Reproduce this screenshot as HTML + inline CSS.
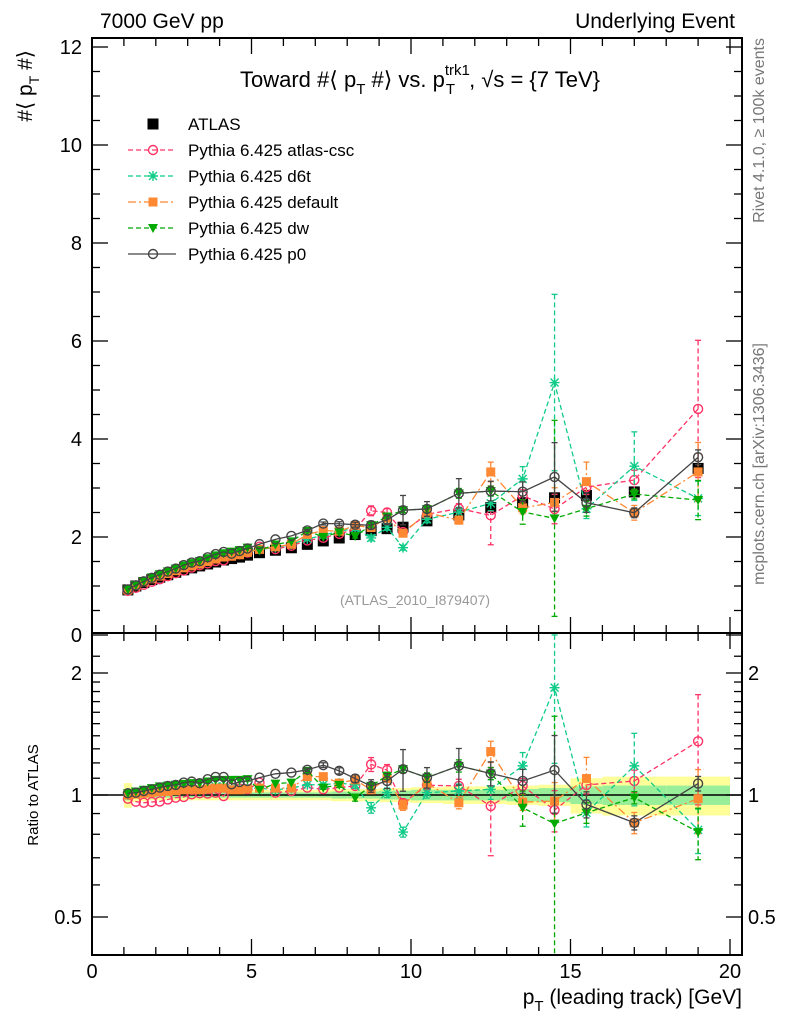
<!DOCTYPE html>
<html><head><meta charset="utf-8"><style>
html,body{margin:0;padding:0;background:#fff;width:786px;height:1024px;overflow:hidden;}
svg{display:block;font-family:"Liberation Sans",sans-serif;}
</style></head><body>
<svg id="c" width="786" height="1024" viewBox="0 0 786 1024" xmlns="http://www.w3.org/2000/svg">
<text x="100" y="28" font-size="21">7000 GeV pp</text>
<text x="735" y="28" font-size="21" text-anchor="end">Underlying Event</text>
<text x="420" y="87" font-size="22" text-anchor="middle">Toward #⟨ p<tspan font-size="15" dy="7">T</tspan><tspan dy="-7"> #⟩ vs. p</tspan><tspan font-size="15" dy="-12">trk1</tspan><tspan font-size="15" dx="-24" dy="19">T</tspan><tspan dy="-7" dx="14">, √s = {7 TeV}</tspan></text>
<text transform="translate(32,50) rotate(-90)" font-size="21" text-anchor="end">#⟨ p<tspan font-size="14" dy="7">T</tspan><tspan dy="-7"> #⟩</tspan></text>
<text transform="translate(38,795) rotate(-90)" font-size="15" text-anchor="middle">Ratio to ATLAS</text>
<text x="742" y="1004" font-size="21" text-anchor="end">p<tspan font-size="15" dy="7">T</tspan><tspan dy="-7"> (leading track) [GeV]</tspan></text>
<text transform="translate(764,38) rotate(-90)" font-size="16" fill="#777" text-anchor="end">Rivet 4.1.0, ≥ 100k events</text>
<text transform="translate(764,343) rotate(-90)" font-size="16" fill="#777" text-anchor="end">mcplots.cern.ch [arXiv:1306.3436]</text>
<text x="415" y="605" font-size="14" fill="#999" text-anchor="middle">(ATLAS_2010_I879407)</text>
<g id="bands"></g><g id="marks"></g><g id="axes"></g><g id="legend"></g>
</svg>
<script>
const xs=[1.125,1.375,1.625,1.875,2.125,2.375,2.625,2.875,3.125,3.375,3.625,3.875,4.125,4.375,4.625,4.875,5.25,5.75,6.25,6.75,7.25,7.75,8.25,8.75,9.25,9.75,10.5,11.5,12.5,13.5,14.5,15.5,17,19];
const xw=[0.125,0.125,0.125,0.125,0.125,0.125,0.125,0.125,0.125,0.125,0.125,0.125,0.125,0.125,0.125,0.125,0.25,0.25,0.25,0.25,0.25,0.25,0.25,0.25,0.25,0.25,0.5,0.5,0.5,0.5,0.5,0.5,1,1];
const atlas=[0.92,1.0,1.07,1.13,1.18,1.23,1.28,1.33,1.37,1.41,1.45,1.49,1.53,1.56,1.59,1.63,1.68,1.73,1.78,1.85,1.92,1.98,2.05,2.13,2.17,2.2,2.33,2.45,2.6,2.7,2.8,2.85,2.92,3.4];
const bandTot=[0.07,0.04,0.035,0.03,0.03,0.03,0.03,0.03,0.03,0.03,0.03,0.03,0.03,0.03,0.03,0.03,0.03,0.03,0.03,0.03,0.03,0.035,0.035,0.035,0.04,0.04,0.045,0.05,0.05,0.055,0.06,0.1,0.11,0.11];
const bandStat=[0.03,0.015,0.015,0.015,0.015,0.015,0.015,0.015,0.015,0.015,0.015,0.015,0.015,0.015,0.015,0.015,0.015,0.015,0.015,0.015,0.015,0.02,0.02,0.02,0.025,0.025,0.03,0.03,0.03,0.035,0.04,0.05,0.055,0.055];
const rCsc=[0.979,0.963,0.957,0.961,0.964,0.975,0.985,0.989,1.004,1.01,1.008,1.013,0.994,1.043,1.037,1.033,1.073,1.013,1.023,1.043,1.033,1.043,1.053,1.19,1.152,0.955,1.057,1.053,0.939,1.053,0.918,1.059,1.083,1.357];
const rD6t=[1.0,1.01,1.02,1.03,1.04,1.045,1.05,1.05,1.04,1.03,1.04,1.05,1.05,1.04,1.04,1.04,1.04,1.03,1.04,1.06,1.06,1.07,1.06,0.93,1.013,0.81,1.013,1.023,1.033,1.18,1.84,0.904,1.18,0.82];
const rDef=[1.0,1.005,1.01,1.015,1.02,1.02,1.025,1.03,1.03,1.03,1.035,1.04,1.04,1.03,1.03,1.035,1.04,1.04,1.04,1.11,1.11,1.07,1.09,1.03,1.1,0.944,1.07,0.957,1.28,0.961,0.966,1.098,0.854,0.979];
const rDw=[1.01,1.02,1.03,1.04,1.05,1.055,1.06,1.065,1.07,1.07,1.08,1.09,1.09,1.09,1.09,1.094,1.03,1.067,1.073,1.147,1.043,1.059,0.985,1.053,1.115,1.158,1.104,1.18,1.13,0.93,0.85,0.904,0.985,0.81];
const rP0=[1.01,1.013,1.023,1.033,1.043,1.053,1.059,1.073,1.079,1.069,1.094,1.108,1.108,1.063,1.077,1.083,1.104,1.128,1.136,1.154,1.185,1.147,1.098,1.053,1.083,1.158,1.104,1.18,1.13,1.083,1.152,0.948,0.854,1.067];
const eCsc=[0,0,0,0,0,0,0,0,0,0,0,0,0,0,0,0,0,0,0,0,0,0,0.03,0.1,0.08,0.05,0.08,0.1,0.6,0.12,0.3,0.15,0.2,1.4];
const eD6t=[0,0,0,0,0,0,0,0,0,0,0,0,0,0,0,0,0,0,0,0,0.02,0.03,0.04,0.06,0.06,0.05,0.07,0.1,0.15,0.25,1.8,0.2,0.7,0.35];
const eDef=[0,0,0,0,0,0,0,0,0,0,0,0,0,0,0,0,0,0,0,0.02,0.02,0.03,0.04,0.04,0.05,0.06,0.07,0.08,0.2,0.12,0.3,0.4,0.15,0.6];
const eDw=[0,0,0,0,0,0,0,0,0,0,0,0,0,0,0,0,0,0,0,0.02,0.02,0.03,0.04,0.04,0.05,0.05,0.07,0.1,0.1,0.25,2.0,0.15,0.1,0.4];
const eP0=[0,0,0,0,0,0,0,0,0,0,0,0,0,0,0,0,0,0,0,0.02,0.03,0.04,0.05,0.08,0.1,0.3,0.15,0.3,0.2,0.2,0.7,0.2,0.1,0.15];
const yTicks=[0,2,4,6,8,10,12];
const rTickLabels=[0.5,1,2];
const xTicks=[0,5,10,15,20];

const NS="http://www.w3.org/2000/svg";
const L=92,R=742,T1=38,B1=633,B2=955;
const X=v=>L+v*31.9;
const Y=v=>635-v*49;
const YR=r=>795-Math.log2(r)*122;
const clamp=(v,a,b)=>Math.min(b,Math.max(a,v));
function el(tag,attrs,parent){const e=document.createElementNS(NS,tag);for(const k in attrs)e.setAttribute(k,attrs[k]);parent.appendChild(e);return e;}
const bands=document.getElementById('bands'),marks=document.getElementById('marks'),axes=document.getElementById('axes'),leg=document.getElementById('legend');
const clipT=el('clipPath',{id:'ct'},document.getElementById('c'));el('rect',{x:L,y:T1,width:R-L,height:B1-T1},clipT);
const clipB=el('clipPath',{id:'cb'},document.getElementById('c'));el('rect',{x:L,y:B1,width:R-L,height:B2-B1},clipB);
xs.forEach((x,i)=>{
 let b=el('rect',{x:X(x-xw[i]),width:X(x+xw[i])-X(x-xw[i]),y:YR(1+bandTot[i]),height:YR(1-bandTot[i])-YR(1+bandTot[i]),fill:'#ffff99'},bands);
 
 
 let g=el('rect',{x:X(x-xw[i]),width:X(x+xw[i])-X(x-xw[i]),y:YR(1+bandStat[i]),height:YR(1-bandStat[i])-YR(1+bandStat[i]),fill:'#99ee99'},bands);
 
 
});
el('line',{x1:L,x2:R,y1:YR(1),y2:YR(1),stroke:'#000','stroke-width':1.5},bands);
function marker(type,cx,cy,col,parent){
 if(type==='sq')return el('rect',{x:cx-5.5,y:cy-5.5,width:11,height:11,fill:col},parent);
 if(type==='osq')return el('rect',{x:cx-4.5,y:cy-4.5,width:9,height:9,fill:col},parent);
 if(type==='oc')return el('circle',{cx:cx,cy:cy,r:4.5,fill:'none',stroke:col,'stroke-width':1.4},parent);
 if(type==='tri')return el('path',{d:`M${cx-5} ${cy-4}L${cx+5} ${cy-4}L${cx} ${cy+5}Z`,fill:col},parent);
 if(type==='star'){const g=el('g',{stroke:col,'stroke-width':1.4},parent);el('path',{d:`M${cx-5} ${cy}H${cx+5}M${cx} ${cy-5}V${cy+5}M${cx-4} ${cy-4}L${cx+4} ${cy+4}M${cx-4} ${cy+4}L${cx+4} ${cy-4}`},g);return g;}
}
const series=[
 {n:'atlas-csc',r:rCsc,e:eCsc,c:'#ff3366',m:'oc',d:'5,3'},
 {n:'d6t',r:rD6t,e:eD6t,c:'#11cc88',m:'star',d:'5,3'},
 {n:'default',r:rDef,e:eDef,c:'#ff8833',m:'osq',d:'8,3,2,3'},
 {n:'dw',r:rDw,e:eDw,c:'#00aa00',m:'tri',d:'5,3'},
 {n:'p0',r:rP0,e:eP0,c:'#444444',m:'oc',d:''}
];
const gA=el('g',{'clip-path':'url(#ct)'},marks);
xs.forEach((x,i)=>{const m=marker('sq',X(x),Y(atlas[i]),'#000',gA);
 
 });
series.forEach(s=>{
 ['top','bot'].forEach(p=>{
  const g=el('g',{'clip-path':p==='top'?'url(#ct)':'url(#cb)'},marks);
  
  
  const vy=i=>p==='top'?Y(s.r[i]*atlas[i]):YR(s.r[i]);
  const ey=(i,sg)=>p==='top'?clamp(Y(s.r[i]*atlas[i]+sg*s.e[i]),T1,B1):clamp(YR(Math.max(0.01,s.r[i]+sg*s.e[i]/atlas[i])),B1,B2);
  el('polyline',{points:xs.map((x,i)=>X(x)+','+vy(i)).join(' '),fill:'none',stroke:s.c,'stroke-width':1.3,'stroke-dasharray':s.d},g);
  xs.forEach((x,i)=>{
   if(s.e[i]>0){el('line',{x1:X(x),x2:X(x),y1:ey(i,1),y2:ey(i,-1),stroke:s.c,'stroke-width':1.3,'stroke-dasharray':s.d},g);
    el('line',{x1:X(x)-3,x2:X(x)+3,y1:ey(i,1),y2:ey(i,1),stroke:s.c,'stroke-width':1.3},g);
    el('line',{x1:X(x)-3,x2:X(x)+3,y1:ey(i,-1),y2:ey(i,-1),stroke:s.c,'stroke-width':1.3},g);}
   const m=marker(s.m,X(x),vy(i),s.c,g);
   
   
  });
 });
});
el('rect',{x:L,y:T1,width:R-L,height:B1-T1,fill:'none',stroke:'#000','stroke-width':2},axes);
el('rect',{x:L,y:B1,width:R-L,height:B2-B1,fill:'none',stroke:'#000','stroke-width':2},axes);
for(let v=0;v<=12;v+=0.5){const y=Y(v);if(y<T1)continue;const len=(v%2===0)?16:8;
 el('line',{x1:L,x2:L+len,y1:y,y2:y,stroke:'#000','stroke-width':1.3},axes);
 el('line',{x1:R,x2:R-len,y1:y,y2:y,stroke:'#000','stroke-width':1.3},axes);}
yTicks.forEach(v=>{const t=el('text',{x:82,y:Y(v)+7,'font-size':20,'text-anchor':'end'},axes);t.textContent=v;
 
 });
for(let v=0;v<=20;v+=1){const x=X(v);const len=(v%5===0)?16:8;
 [[T1,1],[B1,-1],[B1,1],[B2,-1]].forEach(([y,s])=>el('line',{x1:x,x2:x,y1:y,y2:y+s*len,stroke:'#000','stroke-width':1.3},axes));}
xTicks.forEach(v=>{const t=el('text',{x:X(v),y:978,'font-size':20,'text-anchor':'middle'},axes);t.textContent=v;
 
 });
[0.4,0.5,0.6,0.7,0.8,0.9,1,1.1,1.2,1.3,1.4,1.5,1.6,1.7,1.8,1.9,2,2.2].forEach(v=>{const y=YR(v);if(y>B2||y<B1)return;const len=rTickLabels.includes(v)?16:8;
 el('line',{x1:L,x2:L+len,y1:y,y2:y,stroke:'#000','stroke-width':1.3},axes);
 el('line',{x1:R,x2:R-len,y1:y,y2:y,stroke:'#000','stroke-width':1.3},axes);});
rTickLabels.forEach(v=>{[[82,'end'],[748,'start']].forEach(([x,a])=>{const t=el('text',{x:x,y:YR(v)+7,'font-size':20,'text-anchor':a},axes);t.textContent=v;
 
 });});
const legItems=[{n:'ATLAS',c:'#000',m:'sq',d:null}].concat(series.map(s=>({n:'Pythia 6.425 '+s.n,c:s.c,m:s.m,d:s.d})));
legItems.forEach((it,i)=>{const y=124+i*26;const g=el('g',{},leg);
 
 
 if(it.d!==null)el('line',{x1:128,x2:176,y1:y,y2:y,stroke:it.c,'stroke-width':1.3,'stroke-dasharray':it.d},g);
 marker(it.m,153,y,it.c,g);
 const t=el('text',{x:188,y:y+6,'font-size':17},g);t.textContent=it.n;});
</script>
</body></html>
